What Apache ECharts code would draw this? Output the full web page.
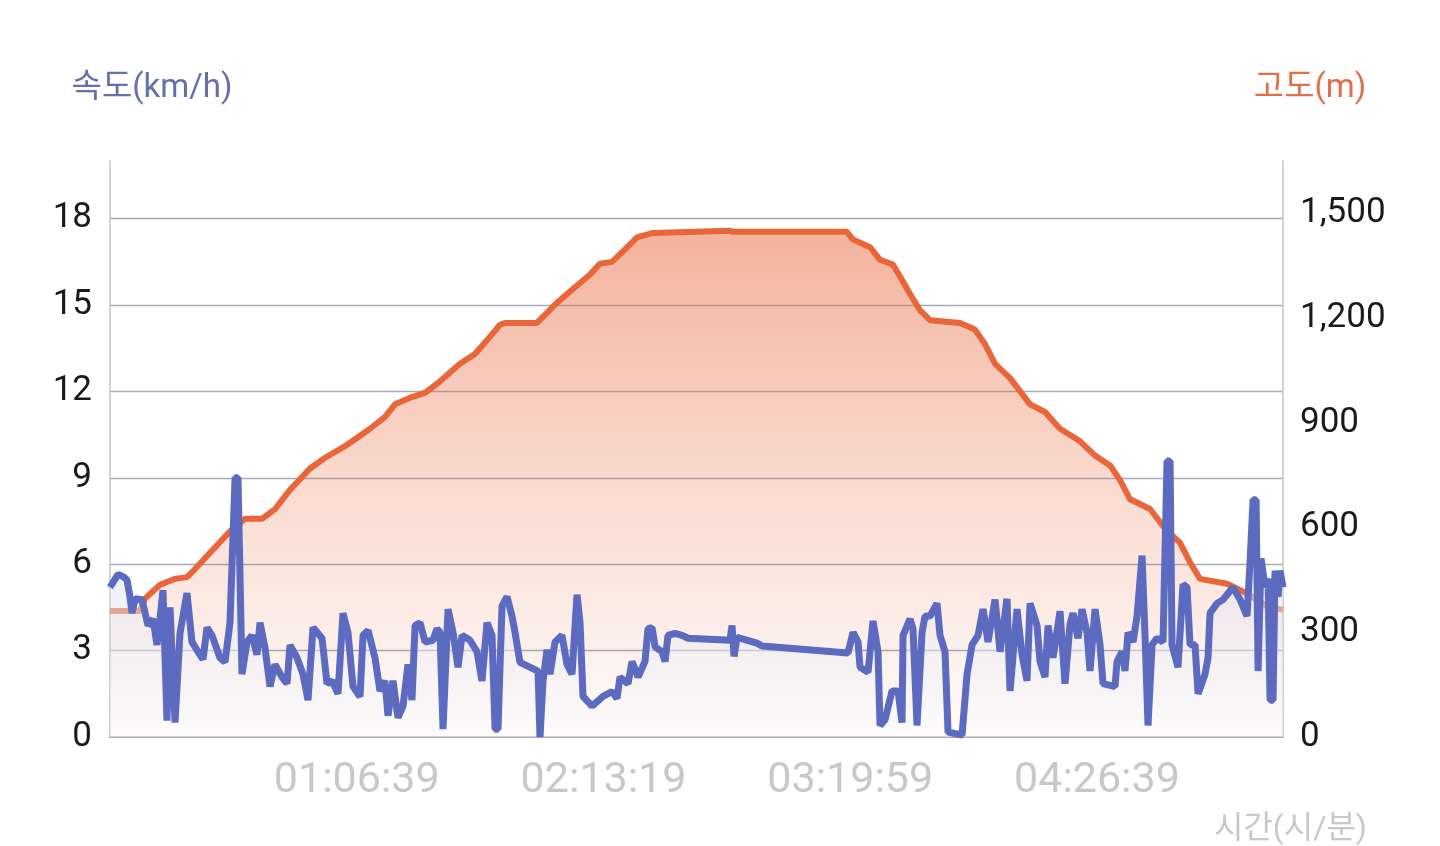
<!DOCTYPE html>
<html>
<head>
<meta charset="utf-8">
<script src="https://cdn.jsdelivr.net/npm/echarts@6/dist/echarts.min.js"></script>
<style>
html,body{margin:0;padding:0;background:#fff;}
#chart{width:1440px;height:846px;}
</style>
</head>
<body>
<div id="chart"></div>
<script>
// Elapsed time in seconds, altitude in metres
const altTime = [0,486,567,811,1054,1248,1378,1621,1945,2189,2464,2675,2918,3242,3486,3810,4215,4458,4620,4864,5107,5350,5674,5917,6161,6323,6404,6923,7247,7376,7782,7944,8138,8349,8544,8803,10051,10100,11948,12046,12321,12483,12694,12807,12970,13132,13294,13780,14023,14186,14348,14591,14915,15158,15401,15726,15969,16212,16374,16536,16860,17104,17347,17509,17671,18109,18433,18757,19016];
const altValue = [361,361,397,436,453,458,481,528,589,625,625,653,708,769,800,833,883,917,953,972,986,1019,1069,1097,1147,1181,1186,1186,1244,1264,1325,1356,1361,1397,1431,1444,1450,1447,1447,1425,1403,1367,1353,1319,1269,1222,1194,1186,1167,1125,1069,1028,953,931,883,847,806,778,736,681,653,597,556,500,453,439,411,375,364];

// Elapsed time in seconds, speed in km/h
const speedTime = [0,130,227,276,324,357,405,519,616,697,762,811,859,924,973,1054,1135,1248,1329,1427,1508,1573,1654,1783,1864,1945,2027,2075,2140,2221,2302,2383,2432,2513,2594,2675,2788,2870,2918,3032,3129,3210,3291,3437,3518,3599,3696,3777,3858,3940,4053,4102,4183,4296,4377,4458,4507,4588,4669,4750,4831,4896,4945,5026,5107,5236,5301,5350,5399,5480,5561,5642,5707,5836,5950,6031,6112,6193,6242,6290,6355,6436,6517,6566,6647,6939,6971,7020,7085,7133,7214,7328,7409,7490,7571,7620,7668,7814,7993,8138,8219,8268,8398,8463,8560,8673,8722,8787,8836,8949,8998,9046,9160,9273,9371,10051,10084,10116,10165,10489,10570,11964,12046,12127,12159,12289,12370,12451,12483,12564,12678,12775,12840,12856,12970,13018,13083,13164,13213,13294,13407,13456,13537,13586,13813,13894,13975,14072,14153,14234,14348,14429,14542,14591,14704,14785,14866,14915,15029,15077,15158,15207,15288,15401,15482,15564,15612,15693,15758,15839,15888,15969,16050,16098,16293,16325,16406,16455,16504,16585,16650,16731,16779,16828,16893,16974,17071,17136,17185,17217,17314,17395,17460,17509,17590,17639,17752,17801,17833,17947,18044,18206,18320,18433,18482,18531,18580,18612,18660,18725,18774,18806,18855,18887,18936,18968,19016];
const speedValue = [5.2,5.65,5.55,5.45,4.87,4.3,4.8,4.77,3.87,4.1,3.2,4.1,5.1,0.57,4.5,0.5,3.6,5.0,3.3,2.96,2.7,3.8,3.53,2.75,2.6,3.97,9.0,9.0,2.18,3.3,3.53,2.86,3.97,3.1,1.75,2.52,2.08,1.85,3.19,2.75,2.18,1.28,3.8,3.43,1.85,1.95,1.5,4.3,3.63,1.75,1.4,3.53,3.7,2.75,1.6,1.95,0.74,1.95,0.67,1.07,2.52,1.28,3.87,3.97,3.3,3.36,3.76,3.63,0.27,4.44,3.63,2.42,3.53,3.36,2.96,1.95,3.97,3.53,0.27,0.27,4.54,4.87,4.2,3.63,2.59,2.29,0,1.95,3.03,2.18,3.3,3.53,2.52,2.18,4.94,3.97,1.41,1.07,1.41,1.58,1.34,2.08,1.85,2.62,2.08,2.62,3.76,3.8,3.13,2.96,2.62,3.53,3.6,3.53,3.43,3.36,3.87,2.8,3.46,3.26,3.16,2.92,3.63,3.3,2.42,2.25,4.03,2.96,0.4,0.6,1.6,1.6,0.5,3.53,4.1,3.76,0.4,3.63,4.2,4.2,4.64,3.53,2.96,0.17,0.07,2.18,3.2,3.53,4.44,3.3,4.77,2.96,4.8,1.6,4.44,2.86,1.95,4.64,3.87,2.62,2.08,3.87,2.75,4.37,1.85,3.93,4.3,3.43,4.44,3.63,2.29,4.44,3.2,1.85,1.75,2.62,2.96,2.29,3.63,3.3,4.2,6.3,3.53,0.4,3.2,3.43,3.3,9.58,9.58,3.2,2.42,5.3,5.2,3.2,3.2,1.5,2.18,2.75,4.3,4.64,4.77,5.2,4.77,4.2,6.1,8.24,8.24,2.29,6.2,5.2,5.5,1.28,1.28,5.78,4.87,5.78,5.2];

// Axis settings / labels
const speedAxisName = '속도(km/h)';
const altAxisName = '고도(m)';
const timeAxisName = '시간(시/분)';
const speedTicks = {min: 0, max: 20, interval: 3};
const altTicks = {min: 0, max: 1650, interval: 300};
const timeTicks = {min: 0, max: 19016, interval: 4000};

const FONT = "Roboto, 'Noto Sans CJK KR', sans-serif";
const SPEED_COLOR = '#5c6bc0';
const ALT_COLOR = '#e8663a';

function pad(n){ return (n < 10 ? '0' : '') + n; }
function fmtTime(v){
  const s = Math.max(0, Math.round(v) - 1);
  const h = Math.floor(s / 3600), m = Math.floor((s % 3600) / 60), sec = s % 60;
  return pad(h) + ':' + pad(m) + ':' + pad(sec);
}
function fmtThousands(v){ return String(v).replace(/\B(?=(\d{3})+(?!\d))/g, ','); }

const altData = altTime.map((t, i) => [t, altValue[i]]);
const speedData = speedTime.map((t, i) => [t, speedValue[i]]);

const chart = echarts.init(document.getElementById('chart'), null, {renderer: 'canvas'});
chart.setOption({
  animation: false,
  backgroundColor: '#ffffff',
  textStyle: {fontFamily: FONT},
  grid: {left: 110, right: 157, top: 161, bottom: 90, containLabel: false},
  xAxis: {
    type: 'value',
    min: timeTicks.min, max: timeTicks.max, interval: timeTicks.interval,
    name: timeAxisName,
    nameLocation: 'end',
    nameGap: 84,
    nameTextStyle: {color: '#c8c8c8', fontSize: 32, fontFamily: FONT, align: 'right', verticalAlign: 'top', padding: [77, 0, 0, 0]},
    axisLine: {show: true, lineStyle: {color: '#8d94a6', width: 1.5}},
    axisTick: {show: false},
    splitLine: {show: false},
    axisLabel: {
      color: '#c8c8c8', fontSize: 43, fontFamily: FONT, margin: 23,
      showMinLabel: false, showMaxLabel: false,
      formatter: fmtTime
    }
  },
  yAxis: [
    {
      type: 'value', position: 'left',
      min: speedTicks.min, max: speedTicks.max, interval: speedTicks.interval,
      name: speedAxisName, nameLocation: 'end', nameGap: 56,
      nameTextStyle: {color: '#6470aa', fontSize: 33, fontFamily: FONT, align: 'center', padding: [0, 0, 0, 84]},
      axisLine: {show: true, lineStyle: {color: '#c4c4c4', width: 1.5}},
      axisTick: {show: false},
      axisLabel: {color: '#1a1a1a', fontSize: 35, fontFamily: FONT, margin: 18, showMaxLabel: false, padding: [6, 0, 0, 0]},
      splitLine: {show: true, showMaxLine: false, showMinLine: false, lineStyle: {color: '#a4abba', width: 1.3}}
    },
    {
      type: 'value', position: 'right',
      min: altTicks.min, max: altTicks.max, interval: altTicks.interval,
      name: altAxisName, nameLocation: 'end', nameGap: 56,
      nameTextStyle: {color: '#e0704a', fontSize: 33, fontFamily: FONT, align: 'center', padding: [0, 0, 0, 54]},
      axisLine: {show: true, lineStyle: {color: '#c4c4c4', width: 1.5}},
      axisTick: {show: false},
      axisLabel: {color: '#1a1a1a', fontSize: 35, fontFamily: FONT, margin: 17, showMaxLabel: false, padding: [6, 0, 0, 0], formatter: fmtThousands},
      splitLine: {show: false}
    }
  ],
  series: [
    {
      name: altAxisName, type: 'line', yAxisIndex: 1,
      data: altData, showSymbol: false, symbol: 'none',
      lineStyle: {color: ALT_COLOR, width: 6},
      itemStyle: {color: ALT_COLOR},
      areaStyle: {
        color: new echarts.graphic.LinearGradient(0, 0, 0, 1, [
          {offset: 0, color: 'rgba(232,104,60,0.72)'},
          {offset: 0.5, color: 'rgba(232,104,60,0.35)'},
          {offset: 1, color: 'rgba(232,104,60,0.03)'}
        ])
      },
      z: 2
    },
    {
      name: speedAxisName, type: 'line', yAxisIndex: 0,
      data: speedData, showSymbol: false, symbol: 'none',
      lineStyle: {color: SPEED_COLOR, width: 7},
      itemStyle: {color: SPEED_COLOR},
      areaStyle: {
        color: new echarts.graphic.LinearGradient(0, 0, 0, 1, [
          {offset: 0, color: 'rgba(205,210,238,0.7)'},
          {offset: 1, color: 'rgba(250,250,252,0.7)'}
        ])
      },
      z: 3
    }
  ]
});
</script>
</body>
</html>
